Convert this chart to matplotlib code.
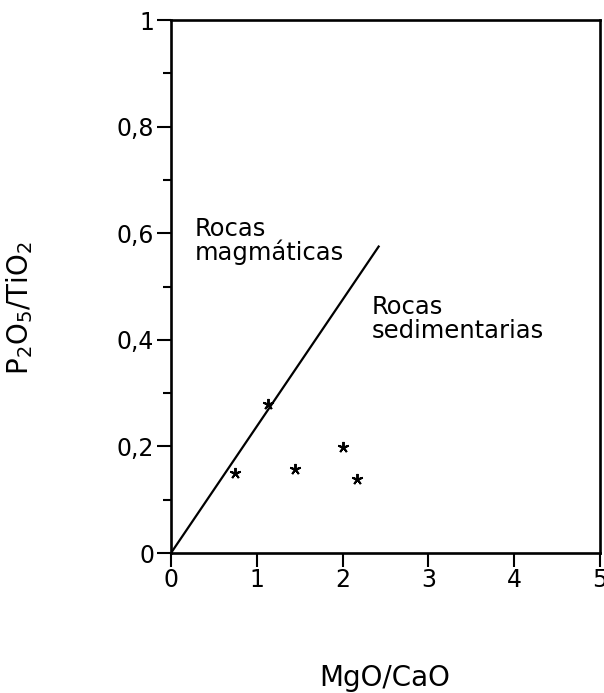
import matplotlib
matplotlib.use('Agg')
import matplotlib.pyplot as plt
from matplotlib.ticker import MultipleLocator

plt.rcParams['font.family'] = ['DejaVu Sans']
plt.rcParams['mathtext.default'] = 'regular'

# sample points (MgO/CaO, P2O5/TiO2)
mgo_cao = [0.75, 1.13, 1.45, 2.0, 2.17]
p2o5_tio2 = [0.15, 0.28, 0.157, 0.198, 0.138]

# dividing line between the two fields
line_x = [0, 2.42]
line_y = [0, 0.575]

xticks = [0, 1, 2, 3, 4, 5]
yticks = [0, 0.2, 0.4, 0.6, 0.8, 1.0]
ytick_labels = ['0', '0,2', '0,4', '0,6', '0,8', '1']

fig = plt.figure(figsize=(6.04, 6.93), dpi=100)
ax = fig.add_axes([0.2831, 0.2020, 0.7103, 0.7691])

ax.plot(line_x, line_y, color='black', linewidth=1.6)
ax.plot(mgo_cao, p2o5_tio2, linestyle='none', marker=(5, 2), color='black',
        markersize=8, markeredgewidth=1.4)

ax.set_xlim(0, 5)
ax.set_ylim(0, 1)
ax.set_xticks(xticks)
ax.set_xticklabels([str(t) for t in xticks])
ax.set_yticks(yticks)
ax.set_yticklabels(ytick_labels)
ax.yaxis.set_minor_locator(MultipleLocator(0.1))

for s in ax.spines.values():
    s.set_linewidth(1.9)
ax.tick_params(which='both', direction='out', width=1.5, labelsize=17)
ax.tick_params(which='major', length=10)
ax.tick_params(which='minor', length=6)
ax.tick_params(axis='x', pad=1)
ax.tick_params(axis='y', pad=2)

# field labels
ax.text(0.28, 0.594, 'Rocas', fontsize=17.5, ha='left', va='baseline')
ax.text(0.28, 0.550, 'magmáticas', fontsize=17.5, ha='left', va='baseline')
ax.text(2.34, 0.448, 'Rocas', fontsize=17.5, ha='left', va='baseline')
ax.text(2.34, 0.403, 'sedimentarias', fontsize=17.5, ha='left', va='baseline')

ax.set_xlabel('MgO/CaO', fontsize=20)
ax.xaxis.set_label_coords(0.499, -0.2345)
ax.xaxis.label.set_va('center')
ax.set_ylabel(r'P$_2$O$_5$/TiO$_2$', fontsize=20)
ax.yaxis.set_label_coords(-0.354, 0.46)
ax.yaxis.label.set_va('center')

fig.savefig('out.png', dpi=100)
